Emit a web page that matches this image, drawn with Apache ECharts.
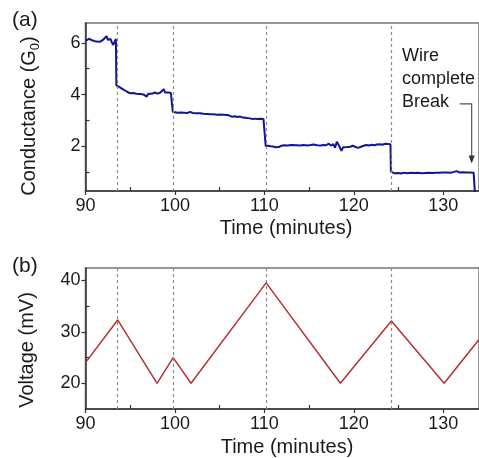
<!DOCTYPE html>
<html>
<head>
<meta charset="utf-8">
<script src="https://cdn.jsdelivr.net/npm/echarts@6/dist/echarts.min.js"></script>
<style>
html,body{margin:0;padding:0;background:#fff;}
#c{width:479px;height:458px;}
</style>
</head>
<body>
<div id="c"></div>
<script>
// ---- Data ----
const condTime = [90.0,90.2,90.4,90.6,90.8,91.0,91.2,91.4,91.6,91.8,92.0,92.15,92.35,92.5,92.65,92.8,92.95,93.1,93.25,93.4,
  93.45,93.6,93.85,94.05,94.2,94.4,94.6,94.8,95.0,95.3,95.7,96.1,96.5,96.85,97.0,97.2,97.5,97.75,98.0,98.3,98.5,98.75,98.9,99.1,99.3,99.55,99.72,
  99.76,100.0,100.3,100.6,101.0,101.4,101.7,102.0,102.4,102.8,103.2,103.6,103.9,104.3,104.7,105.0,105.4,105.8,106.1,106.4,106.7,107.0,107.3,107.6,107.8,108.1,108.4,108.7,108.95,109.2,109.35,109.6,109.9,110.1,
  110.15,110.4,110.7,111.0,111.25,111.4,111.6,111.9,112.2,112.6,113.0,113.2,113.6,114.0,114.4,114.8,115.2,115.5,115.9,116.3,116.6,116.9,117.2,117.45,117.7,117.9,118.1,118.3,118.45,118.62,118.8,119.0,119.3,119.6,119.9,120.2,120.5,120.8,121.1,121.4,121.7,122.0,122.3,122.6,122.9,123.2,123.5,123.8,124.1,
  124.15,124.3,124.5,124.7,125.0,125.3,125.6,126.0,126.4,126.8,127.2,127.6,128.0,128.4,128.8,129.2,129.6,130.0,130.4,130.8,131.2,131.5,131.8,132.2,132.6,133.0,133.4,133.55,133.58];
const condValue = [6.08,6.12,6.16,6.12,6.09,6.07,6.05,6.08,6.04,6.10,6.13,6.08,6.26,6.12,6.10,6.15,6.02,5.92,6.05,6.15,
  4.36,4.32,4.28,4.25,4.20,4.16,4.12,4.08,4.05,4.06,4.03,4.02,4.00,3.92,4.02,4.05,4.04,4.08,4.04,4.06,4.03,4.21,4.08,4.05,4.08,4.06,3.99,
  3.33,3.32,3.30,3.31,3.30,3.29,3.33,3.29,3.28,3.28,3.26,3.25,3.24,3.24,3.22,3.23,3.22,3.21,3.19,3.14,3.16,3.13,3.15,3.11,3.07,3.09,3.08,3.05,3.07,3.06,3.12,3.07,3.06,3.05,
  2.00,2.02,2.00,1.99,1.96,1.89,1.97,2.02,2.04,2.03,2.05,2.08,2.04,2.03,2.05,2.03,2.05,2.07,2.04,2.03,2.05,2.04,2.10,2.03,2.08,1.95,2.17,2.06,2.02,1.82,1.96,2.01,1.97,1.98,2.02,1.97,1.94,1.98,2.02,2.05,2.03,2.06,2.04,2.07,2.08,2.06,2.10,2.09,2.08,
  1.02,1.07,0.96,0.98,0.97,0.95,0.98,0.96,0.98,0.97,0.98,0.96,0.97,0.98,0.97,0.98,0.98,0.99,0.99,0.98,1.01,1.04,0.99,1.00,0.99,0.99,0.98,0.97,0.0];

const voltTime  = [90, 93.6, 98.0, 99.8, 101.8, 110.2, 118.5, 124.2, 130.1, 134];
const voltValue = [24, 32.3, 20.0, 25.0, 20.0,  39.5,  20.0,  32.1,  20.0,  28.5];

const stepTimes = [93.6, 99.8, 110.2, 124.2];

const xMajor = [90, 100, 110, 120, 130];
const xMinor = [95, 105, 115, 125];
const condMajor = [2, 4, 6];
const condMinor = [1, 3, 5];
const voltMajor = [20, 30, 40];
const voltMinor = [25, 35];

const panelLabels = ['(a)', '(b)'];
const xTitle = 'Time (minutes)';
const annotation = ['Wire', 'complete', 'Break'];

// ---- Chart ----
const FONT = '"Liberation Sans", Arial, sans-serif';
const AX = '#333';
const chart = echarts.init(document.getElementById('c'), null, {renderer: 'canvas'});

function zip(a, b) { return a.map((v, i) => [v, b[i]]); }

function majorX(grid) {
  return {
    type: 'value', gridIndex: grid, min: 90, max: 134, interval: 10, position: 'bottom',
    axisLine: {show: true, lineStyle: {color: AX, width: 1.5}},
    axisTick: {show: true, inside: false, length: 4, lineStyle: {color: AX, width: 1.2}, customValues: xMajor},
    axisLabel: {show: true, customValues: xMajor, margin: 6, color: '#1a1a1a', fontSize: 18, fontFamily: FONT},
    splitLine: {show: false}
  };
}
function minorX(grid) {
  return {
    type: 'value', gridIndex: grid, min: 90, max: 134, position: 'bottom',
    axisLine: {show: false},
    axisTick: {show: true, inside: true, length: 4, lineStyle: {color: AX, width: 1.2}, customValues: xMinor},
    axisLabel: {show: false},
    splitLine: {show: false}
  };
}
function majorY(grid, min, max, vals) {
  return {
    type: 'value', gridIndex: grid, min: min, max: max, position: 'left',
    axisLine: {show: true, lineStyle: {color: AX, width: 1.5}},
    axisTick: {show: true, inside: false, length: 4, lineStyle: {color: AX, width: 1.2}, customValues: vals},
    axisLabel: {show: true, customValues: vals, margin: 5, color: '#1a1a1a', fontSize: 18, fontFamily: FONT},
    splitLine: {show: false}
  };
}
function minorY(grid, min, max, vals) {
  return {
    type: 'value', gridIndex: grid, min: min, max: max, position: 'left',
    axisLine: {show: false},
    axisTick: {show: true, inside: true, length: 4, lineStyle: {color: AX, width: 1.2}, customValues: vals},
    axisLabel: {show: false},
    splitLine: {show: false}
  };
}

const stepLines = {
  silent: true, symbol: ['none', 'none'], label: {show: false},
  lineStyle: {color: '#8a8a8a', type: [3, 3], width: 1.2},
  data: stepTimes.map(t => ({xAxis: t}))
};

const option = {
  animation: false,
  backgroundColor: '#fff',
  grid: [
    {left: 85.5, right: 0, top: 23, bottom: 267, show: true, borderColor: '#777', borderWidth: 1.5},
    {left: 85.5, right: 0, top: 268, bottom: 49, show: true, borderColor: '#777', borderWidth: 1.5}
  ],
  xAxis: [majorX(0), minorX(0), majorX(1), minorX(1)],
  yAxis: [
    majorY(0, 0.27, 6.77, condMajor), minorY(0, 0.27, 6.77, condMinor),
    majorY(1, 15, 42.4, voltMajor), minorY(1, 15, 42.4, voltMinor)
  ],
  series: [
    {
      type: 'line', xAxisIndex: 0, yAxisIndex: 0, data: zip(condTime, condValue),
      showSymbol: false, symbol: 'none', clip: true, z: 3,
      lineStyle: {color: '#141496', width: 2},
      markLine: stepLines
    },
    {
      type: 'line', xAxisIndex: 2, yAxisIndex: 2, data: zip(voltTime, voltValue),
      showSymbol: false, symbol: 'none', clip: true, z: 3,
      lineStyle: {color: '#b42a2a', width: 1.4},
      markLine: stepLines
    }
  ],
  graphic: [
    {id: 'pa', type: 'text', left: 12, top: 10, style: {text: panelLabels[0], font: '21px ' + FONT, fill: '#1a1a1a'}},
    {id: 'pb', type: 'text', left: 12, top: 256, style: {text: panelLabels[1], font: '21px ' + FONT, fill: '#1a1a1a'}},
    {id: 'xt0', type: 'text', x: 286, y: 228, style: {text: xTitle, font: '20px ' + FONT, fill: '#1a1a1a', align: 'center', verticalAlign: 'middle'}},
    {id: 'xt1', type: 'text', x: 287, y: 447, style: {text: xTitle, font: '20px ' + FONT, fill: '#1a1a1a', align: 'center', verticalAlign: 'middle'}},
    {id: 'yt0', type: 'text', x: 29, y: 116, rotation: Math.PI / 2,
      style: {text: '{n|Conductance (G}{s|0}{n|)}', align: 'center', verticalAlign: 'middle',
        rich: {
          n: {font: '20px ' + FONT, fill: '#1a1a1a', lineHeight: 26, verticalAlign: 'middle'},
          s: {font: '13px ' + FONT, fill: '#1a1a1a', lineHeight: 13, verticalAlign: 'bottom'}
        }}},
    {id: 'yt1', type: 'text', x: 27, y: 350, rotation: Math.PI / 2,
      style: {text: 'Voltage (mV)', font: '20px ' + FONT, fill: '#1a1a1a', align: 'center', verticalAlign: 'middle'}},
    {id: 'ann', type: 'text', x: 402, y: 44.5,
      style: {text: annotation.join('\n'), font: '18px ' + FONT, fill: '#1a1a1a', lineHeight: 23, align: 'left', verticalAlign: 'top'}}
  ]
};
chart.setOption(option);

// Arrow for annotation, positioned from data coordinates
const pStart = chart.convertToPixel({seriesIndex: 0}, [131.84, 3.64]);
const pCorner = chart.convertToPixel({seriesIndex: 0}, [133.18, 3.64]);
const pTip = chart.convertToPixel({seriesIndex: 0}, [133.18, 1.33]);
chart.setOption({
  graphic: [
    {id: 'arrowLine', type: 'polyline', shape: {points: [pStart, pCorner, [pCorner[0], pTip[1] - 7]]},
      style: {stroke: '#555', lineWidth: 1.2, fill: null}},
    {id: 'arrowHead', type: 'polygon', shape: {points: [[pTip[0] - 3, pTip[1] - 8], [pTip[0] + 3, pTip[1] - 8], [pTip[0], pTip[1]]]},
      style: {fill: '#333'}}
  ]
});
</script>
</body>
</html>
